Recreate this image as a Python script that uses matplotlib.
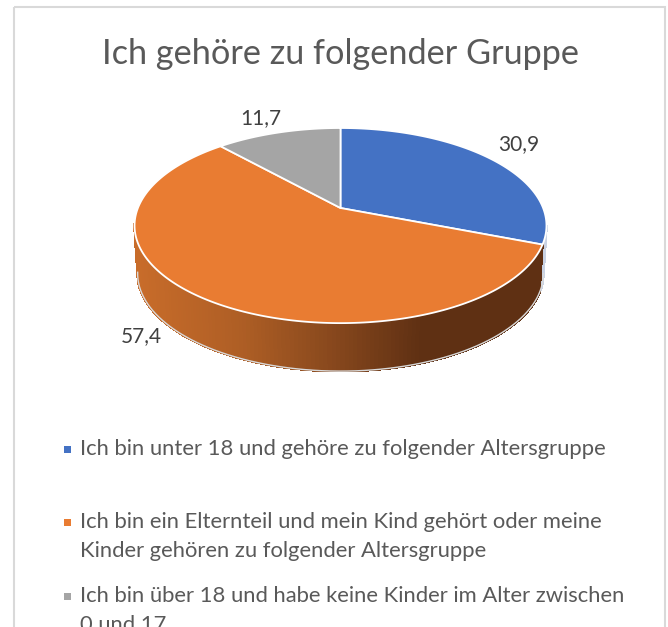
import matplotlib
matplotlib.use('Agg')
import matplotlib.pyplot as plt
from matplotlib.collections import PolyCollection
from matplotlib.patches import Polygon, Rectangle
import numpy as np

title = 'Ich gehöre zu folgender Gruppe'
values = [30.9, 57.4, 11.7]
value_labels = ['30,9', '57,4', '11,7']
legend_labels = [
    ['Ich bin unter 18 und gehöre zu folgender Altersgruppe'],
    ['Ich bin ein Elternteil und mein Kind gehört oder meine',
     'Kinder gehören zu folgender Altersgruppe'],
    ['Ich bin über 18 und habe keine Kinder im Alter zwischen',
     '0 und 17'],
]
colors = ['#4472C4', '#E97C32', '#A5A5A5']

plt.rcParams['font.family'] = ['Lato', 'DejaVu Sans']

# apex of the pie, in image pixels, and the tilt of the disc
cx, cy = 340.5, 208
a, b, k = 202.6, 94.4, 0.18
depth = 48
shrink = 0.985


def project(deg, lower=False):
    t = np.radians(deg)
    w = 1 + k * np.sin(t)
    x = a * np.cos(t) / w
    y = -b * np.sin(t) / w
    if lower:
        return cx + x * shrink, cy + y + depth
    return cx + x, cy + y


def side_color(x):
    # shading of the orange wall, left to right
    xs = [135, 240, 330, 420, 546]
    r = np.interp(x, xs, [0xC8, 0xAE, 0x88, 0x5F, 0x5F])
    g = np.interp(x, xs, [0x6C, 0x5E, 0x48, 0x30, 0x30])
    b_ = np.interp(x, xs, [0x2A, 0x25, 0x1D, 0x13, 0x13])
    return (r / 255, g / 255, b_ / 255)


fig = plt.figure(figsize=(6.68, 6.27), dpi=100)
ax = fig.add_axes([0, 0, 1, 1])
ax.set_xlim(0, 668)
ax.set_ylim(627, 0)
ax.axis('off')

ax.add_patch(Rectangle((13.5, 6.5), 651, 640, fill=False, ec='#D9D9D9', lw=1.5))

# slice limits, clockwise from twelve o'clock
ends = 90 - np.cumsum([0] + values) * 3.6
tangent = np.degrees(np.arcsin(k))

# wall of the pie
wall_angles = np.arange(-tangent, -180 + tangent - 1, -1.0)
quads = []
quad_colors = []
for t0, t1 in zip(wall_angles[:-1], wall_angles[1:]):
    x0, y0 = project(t0)
    x1, y1 = project(t1)
    x2, y2 = project(t1, True)
    x3, y3 = project(t0, True)
    quads.append([(x0, y0), (x1, y1), (x2, y2), (x3, y3)])
    if t0 > ends[1]:
        quad_colors.append('#C9D2E3')
    else:
        quad_colors.append(side_color((x0 + x1) / 2))
ax.add_collection(PolyCollection(quads, facecolors=quad_colors, edgecolors=quad_colors,
                                 linewidths=1.2, antialiaseds=False))

# thin light line under the wall
bx, by = project(wall_angles, True)
ax.plot(bx, by, color='#D9D9D9', lw=1)

# top of the pie
for i, color in enumerate(colors):
    t = np.linspace(ends[i], ends[i + 1], 200)
    x, y = project(t)
    pts = np.column_stack([np.r_[cx, x], np.r_[cy, y]])
    ax.add_patch(Polygon(pts, closed=True, fc=color, ec='white', lw=1.3, joinstyle='round'))

ax.text(340, 54, title, fontsize=24.7, color='#595959', ha='center', va='center')

label_pos = [(519, 144), (141, 336), (261, 118)]
for txt, (x, y) in zip(value_labels, label_pos):
    ax.text(x, y, txt, fontsize=15, color='#404040', ha='center', va='center')

legend_y = [[449], [522, 551], [596, 625]]
for i, lines in enumerate(legend_labels):
    ax.add_patch(Rectangle((64, legend_y[i][0] - 3.5), 7, 7, fc=colors[i], ec='none'))
    for line, y in zip(lines, legend_y[i]):
        ax.text(80, y, line, fontsize=15.85, color='#595959', ha='left', va='center')

fig.savefig('out.png', dpi=100)
